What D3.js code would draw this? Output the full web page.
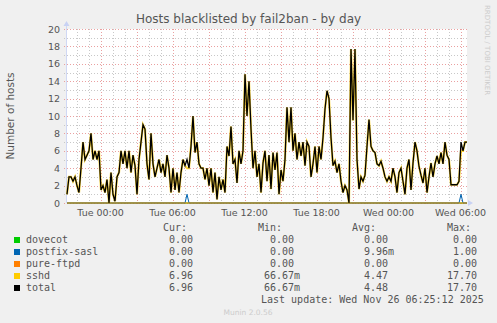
<!DOCTYPE html>
<html>
<head>
<meta charset="utf-8">
<script src="https://cdn.jsdelivr.net/npm/d3@7"></script>
<style>
  body { margin: 0; background: #f0f0f0; }
  svg { display: block; }
  text { font-family: "DejaVu Sans", sans-serif; fill: #555; }
  .mono { font-family: "DejaVu Sans Mono", monospace; white-space: pre; font-size: 10px; }
</style>
</head>
<body>
<div id="chart"></div>
<script>
const WIDTH        = 497;
const HEIGHT       = 323;
const MARGIN       = { top: 29, right: 30, bottom: 120, left: 67 };
const INNER_WIDTH  = 400;
const INNER_HEIGHT = 174;

// samples every 10 minutes, first one Mon 24 Nov 21:12
const START    = new Date(2025, 10, 24, 21, 12);
const STEP_MIN = 10;

// total hosts blacklisted
const total = [
  1, 3, 3, 2.5, 3, 2, 1.2, 4, 7, 5, 5.5, 6, 8, 5, 6, 5, 6, 1.5, 2, 1.2,
  2.7, 0, 3.5, 1, 0.2, 3, 3.5, 6, 4.5, 6, 4, 6, 3.5, 5.5, 4.3, 1, 5, 7, 9, 8.5, 4.5,
  2.7, 8, 4.5, 3, 4, 5, 3.5, 4.5, 3, 5.5, 4, 1.2, 4, 1.5, 3.5, 1.2, 3.5, 5, 4.3, 5,
  4, 6.5, 10, 5.8, 7, 4.5, 4, 4, 2.7, 4, 2, 4, 1.2, 3.5, 0.4, 3, 1.5, 2.7, 1.2, 6.5,
  5.4, 8.8, 4.5, 5, 2.3, 6, 4.5, 6, 14.8, 10, 14, 8.5, 4, 6, 3, 4.5, 1.2, 4.6, 6, 2.5,
  5.5, 1.6, 5.8, 3.8, 5.8, 1, 3.8, 2.5, 5, 11, 7, 11, 6, 8, 5, 7, 5.4, 7, 4.3, 7,
  6.5, 3, 4.5, 6.5, 3.5, 6.5, 5, 7.5, 10.8, 12.9, 12, 7.5, 4.3, 4.8, 3.5, 4.5, 2.5, 1.2, 2, 1.5,
  0, 17.7, 9.5, 17.7, 5, 1.6, 3, 2.5, 3.2, 6.5, 9.6, 6.5, 6, 5.8, 4.5, 4.3, 4.8, 4, 3, 2.5,
  3, 2.5, 4, 3, 1.2, 3.5, 4, 2.5, 1, 4, 5, 1.5, 4.6, 7, 6, 4.2, 3.2, 2.3, 4, 1.2,
  3, 4.6, 3, 4.5, 5.4, 4.5, 5.8, 4.5, 7, 5.5, 5, 2.1, 2.1, 2.1, 2.1, 2.5, 7, 6, 7, 7
];
// postfix-sasl only ever shows two single-sample blips: [sample index, value]
const saslBlips = [[60, 1], [197, 1]];

const SERIES_NAMES  = ['dovecot', 'postfix-sasl', 'pure-ftpd', 'sshd', 'total'];
const SERIES_COLORS = ['#00cc00', '#0066b3', '#ff8000', '#ffcc00', '#000000'];
const CUR = ['0.00', '0.00', '0.00', '6.96', '6.96'];
const MIN = ['0.00', '0.00', '0.00', '66.67m', '66.67m'];
const AVG = ['0.00', '9.96m', '0.00', '4.47', '4.48'];
const MAX = ['0.00', '1.00', '0.00', '17.70', '17.70'];
const Y_TICKS = d3.range(0, 21, 2);

const times = total.map((d, i) => new Date(+START + i * STEP_MIN * 60000));
const sasl  = total.map(() => 0);
saslBlips.forEach(b => { sasl[b[0]] = b[1]; });
const zero  = total.map(() => 0);
const sshd  = total.map((d, i) => d - sasl[i]);
const seriesData = [zero, sasl, zero, sshd, total];

const svg = d3.select('#chart').append('svg')
  .attr('width', WIDTH)
  .attr('height', HEIGHT);

const g = svg.append('g')
  .attr('transform', 'translate(' + MARGIN.left + ',' + MARGIN.top + ')');

g.append('rect')
  .attr('width', INNER_WIDTH)
  .attr('height', INNER_HEIGHT)
  .attr('fill', '#fff');

const x = d3.scaleTime()
  .domain([START, new Date(+START + 200 * STEP_MIN * 60000)])
  .range([0, INNER_WIDTH]);
const y = d3.scaleLinear().domain([0, 20]).range([INNER_HEIGHT, 0]);

const minorHours = x.ticks(d3.timeHour.every(1));
const majorHours = x.ticks(d3.timeHour.every(3));
const labelHours = x.ticks(d3.timeHour.every(6));

// minor grid
g.append('g').selectAll('line')
  .data(minorHours)
  .join('line')
    .attr('x1', d => Math.round(x(d)) + 0.5).attr('x2', d => Math.round(x(d)) + 0.5)
    .attr('y1', 0).attr('y2', INNER_HEIGHT + 3)
    .attr('stroke', '#c8c8c8').attr('stroke-dasharray', '1,2');
g.append('g').selectAll('line')
  .data(d3.range(1, 20, 2))
  .join('line')
    .attr('x1', -3).attr('x2', INNER_WIDTH)
    .attr('y1', d => Math.round(y(d)) + 0.5).attr('y2', d => Math.round(y(d)) + 0.5)
    .attr('stroke', '#c8c8c8').attr('stroke-dasharray', '1,2');

// major grid
g.append('g').selectAll('line')
  .data(majorHours)
  .join('line')
    .attr('x1', d => Math.round(x(d)) + 0.5).attr('x2', d => Math.round(x(d)) + 0.5)
    .attr('y1', 0).attr('y2', INNER_HEIGHT + 3)
    .attr('stroke', '#eaa0a0').attr('stroke-dasharray', '1,2');
g.append('g').selectAll('line')
  .data(Y_TICKS)
  .join('line')
    .attr('x1', -3).attr('x2', INNER_WIDTH)
    .attr('y1', d => Math.round(y(d)) + 0.5).attr('y2', d => Math.round(y(d)) + 0.5)
    .attr('stroke', '#eaa0a0').attr('stroke-dasharray', '1,2');

// y axis line and arrows
g.append('line')
  .attr('x1', -0.5).attr('x2', -0.5).attr('y1', INNER_HEIGHT).attr('y2', -4)
  .attr('stroke', '#d0d8f4');
g.append('path')
  .attr('d', 'M-3.5,-3 L-0.5,-8 L2.5,-3 Z')
  .attr('fill', '#c8d2f4');
g.append('path')
  .attr('d', 'M' + (INNER_WIDTH + 1) + ',' + (INNER_HEIGHT - 3) + ' L' + (INNER_WIDTH + 6) + ',' + INNER_HEIGHT + ' L' + (INNER_WIDTH + 1) + ',' + (INNER_HEIGHT + 3) + ' Z')
  .attr('fill', '#c8d2f4');

// data lines
const line = d3.line()
  .x((d, i) => x(times[i]))
  .y(d => y(d));

seriesData.forEach((s, k) => {
  g.append('path')
    .datum(s)
    .attr('fill', 'none')
    .attr('stroke', SERIES_COLORS[k])
    .attr('stroke-width', k === 3 ? 2.2 : (k === 4 ? 1.3 : 1))
    .attr('stroke-opacity', k === 3 ? 0.75 : 1)
    .attr('stroke-linejoin', 'miter')
    .attr('d', line);
});

// tick labels
g.append('g').selectAll('text')
  .data(Y_TICKS)
  .join('text')
    .attr('x', -7)
    .attr('y', d => y(d) + 3.5)
    .attr('text-anchor', 'end')
    .style('font-size', '9.5px')
    .text(d => d);

const fmt = d3.timeFormat('%a %H:%M');
g.append('g').selectAll('text')
  .data(labelHours)
  .join('text')
    .attr('x', d => x(d))
    .attr('y', INNER_HEIGHT + 13)
    .attr('text-anchor', 'middle')
    .style('font-size', '9.5px')
    .text(d => fmt(d));

// title
svg.append('text')
  .attr('x', 248.5)
  .attr('y', 23)
  .attr('text-anchor', 'middle')
  .style('font-size', '12px')
  .text('Hosts blacklisted by fail2ban - by day');

// y axis label
svg.append('text')
  .attr('transform', 'translate(14,116) rotate(-90)')
  .attr('text-anchor', 'middle')
  .style('font-size', '10.5px')
  .text('Number of hosts');

// side credit
svg.append('text')
  .attr('transform', 'translate(485,5) rotate(90)')
  .style('font-size', '7px')
  .style('fill', '#ccc')
  .text('RRDTOOL / TOBI OETIKER');

// legend
const legend = svg.append('g');
const cols = [
  { x: 163, head: 'Cur:', vals: CUR, pad: 5 },
  { x: 258, head: 'Min:', vals: MIN, pad: 6 },
  { x: 352, head: 'Avg:', vals: AVG, pad: 6 },
  { x: 447, head: 'Max:', vals: MAX, pad: 5 }
];
cols.forEach(c => {
  legend.append('text').attr('class', 'mono')
    .attr('x', c.x).attr('y', 231)
    .text(c.head);
  legend.selectAll(null)
    .data(c.vals)
    .join('text')
      .attr('class', 'mono')
      .attr('xml:space', 'preserve')
      .attr('x', c.x)
      .attr('y', (d, i) => 243 + i * 12)
      .text(d => {
        const num = d.replace('m', '');
        return (num.padStart(c.pad, ' ') + (d.endsWith('m') ? 'm' : ''));
      });
});
legend.selectAll(null)
  .data(SERIES_NAMES)
  .join('rect')
    .attr('x', 14)
    .attr('y', (d, i) => 237 + i * 12)
    .attr('width', 6)
    .attr('height', 6)
    .attr('fill', (d, i) => SERIES_COLORS[i]);
legend.selectAll(null)
  .data(SERIES_NAMES)
  .join('text')
    .attr('class', 'mono')
    .attr('x', 26)
    .attr('y', (d, i) => 243 + i * 12)
    .text(d => d);

svg.append('text').attr('class', 'mono')
  .attr('x', 261).attr('y', 303)
  .text('Last update: Wed Nov 26 06:25:12 2025');

svg.append('text')
  .attr('x', 248)
  .attr('y', 315)
  .attr('text-anchor', 'middle')
  .style('font-size', '7.5px')
  .style('fill', '#ccc')
  .text('Munin 2.0.56');
</script>
</body>
</html>
